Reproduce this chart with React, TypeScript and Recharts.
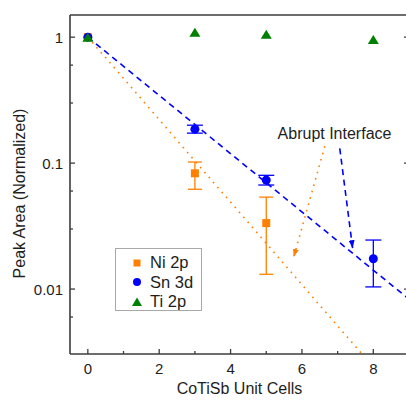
import { ComposedChart, ErrorBar, Line, Scatter, XAxis, YAxis } from 'recharts'

// unit cells of CoTiSb overlayer
const cells = [0, 3, 5, 8]
const niCells = [0, 3, 5]

// normalized peak areas
const niArea = [1, 0.083, 0.0334]
const niLow = [null, 0.062, 0.0131]
const niHigh = [null, 0.102, 0.0537]

const snArea = [1, 0.186, 0.0733, 0.0174]
const snLow = [null, 0.173, 0.067, 0.0104]
const snHigh = [null, 0.2, 0.08, 0.0245]

const tiArea = [1, 1.096, 1.056, 0.959]

// exponential decay guides
const niFitX = [0, 8]
const niFitY = [1, 0.0024]
const snFitX = [0, 9]
const snFitY = [1, 0.0083]

// "Abrupt Interface" arrows
const orangeArrowX = [6.64, 5.77]
const orangeArrowY = [0.136, 0.018]
const blueArrowX = [7.06, 7.42]
const blueArrowY = [0.131, 0.0211]

const xTicks = [0, 1, 2, 3, 4, 5, 6, 7, 8]
const xLabels = [0, 2, 4, 6, 8]
const yTicks = [
  0.004, 0.005, 0.006, 0.007, 0.008, 0.009,
  0.01, 0.02, 0.03, 0.04, 0.05, 0.06, 0.07, 0.08, 0.09,
  0.1, 0.2, 0.3, 0.4, 0.5, 0.6, 0.7, 0.8, 0.9, 1,
]
const yLabels = [0.01, 0.1, 1]

const ORANGE = '#ff8000'
const BLUE = '#0000ff'
const GREEN = '#008000'
const AXIS = '#3c3c3c'
const TEXT = '#1e1e1e'
const FONT = '"Liberation Sans", Arial, sans-serif'

const X_DOMAIN = [-0.5, 9]
const Y_DOMAIN = [0.00305, 1.5]

function points(xs: number[], ys: number[]) {
  return xs.map((x, i) => ({ x, y: ys[i] }))
}

function withErr(xs: number[], ys: number[], lo: (number | null)[], hi: (number | null)[]) {
  return xs.map((x, i) => ({
    x,
    y: ys[i],
    err: lo[i] == null || hi[i] == null ? null : [ys[i] - (lo[i] as number), (hi[i] as number) - ys[i]],
  }))
}

const niData = withErr(niCells, niArea, niLow, niHigh)
const snData = withErr(cells, snArea, snLow, snHigh)
const tiData = points(cells, tiArea)

function BottomTick({ x, y, payload }: any) {
  const major = xLabels.includes(payload.value)
  return (
    <g>
      <line x1={x} x2={x} y1={y} y2={y - (major ? 5 : 3)} stroke={AXIS} strokeWidth={1.3} />
      {major ? (
        <text x={x} y={y + 19.5} textAnchor="middle" fontSize={15} fill={TEXT} fontFamily={FONT}>
          {payload.value}
        </text>
      ) : null}
    </g>
  )
}

function TopTick({ x, y, payload }: any) {
  const major = xLabels.includes(payload.value)
  return <line x1={x} x2={x} y1={y} y2={y + (major ? 5 : 3)} stroke={AXIS} strokeWidth={1.3} />
}

function LeftTick({ x, y, payload }: any) {
  const major = yLabels.includes(payload.value)
  return (
    <g>
      <line x1={x} x2={x + (major ? 5 : 3)} y1={y} y2={y} stroke={AXIS} strokeWidth={1.3} />
      {major ? (
        <text x={x - 7} y={y + 5.5} textAnchor="end" fontSize={15} fill={TEXT} fontFamily={FONT}>
          {String(payload.value)}
        </text>
      ) : null}
    </g>
  )
}

function RightTick({ x, y, payload }: any) {
  const major = yLabels.includes(payload.value)
  return <line x1={x} x2={x - (major ? 5 : 3)} y1={y} y2={y} stroke={AXIS} strokeWidth={1.3} />
}

const square = ({ cx, cy }: any) => <rect x={cx - 4} y={cy - 4} width={8} height={8} fill={ORANGE} />
const circle = ({ cx, cy }: any) => <circle cx={cx} cy={cy} r={4.5} fill={BLUE} />
const triangle = ({ cx, cy }: any) => (
  <path d={`M${cx},${cy - 4.5} L${cx + 5.5},${cy + 4.5} L${cx - 5.5},${cy + 4.5} Z`} fill={GREEN} />
)

function LegendBox() {
  const rows = [
    { name: 'Ni 2p', mark: <rect x={2.5} y={2.5} width={7} height={7} fill={ORANGE} /> },
    { name: 'Sn 3d', mark: <circle cx={6} cy={6} r={4} fill={BLUE} /> },
    { name: 'Ti 2p', mark: <path d="M6,1.5 L11,10 L1,10 Z" fill={GREEN} /> },
  ]
  return (
    <div
      style={{
        position: 'absolute',
        left: 115,
        top: 248,
        width: 87,
        height: 63,
        border: '1px solid #a8a8a8',
        background: '#fff',
        fontFamily: FONT,
        fontSize: 16.5,
        color: TEXT,
        boxSizing: 'border-box',
      }}
    >
      {rows.map((r, i) => (
        <div
          key={r.name}
          style={{ position: 'absolute', left: 15, top: 4 + i * 19.5, height: 19, display: 'flex', alignItems: 'center' }}
        >
          <svg width={12} height={12} style={{ marginRight: 7 }}>
            {r.mark}
          </svg>
          <span style={{ lineHeight: '19px' }}>{r.name}</span>
        </div>
      ))}
    </div>
  )
}

export default function App() {
  return (
    <div style={{ position: 'absolute', left: 0, top: 0, width: 406, height: 401, overflow: 'hidden', background: '#fff' }}>
      <ComposedChart width={416} height={401} margin={{ top: 5, right: 1, bottom: 7, left: 0 }}>
        <defs>
          <marker id="headOrange" viewBox="0 0 8 6" refX={8} refY={3} markerWidth={8} markerHeight={6} orient="auto" markerUnits="userSpaceOnUse">
            <path d="M0,0 L8,3 L0,6 Z" fill={ORANGE} />
          </marker>
          <marker id="headBlue" viewBox="0 0 8 6" refX={8} refY={3} markerWidth={8} markerHeight={6} orient="auto" markerUnits="userSpaceOnUse">
            <path d="M0,0 L8,3 L0,6 Z" fill={BLUE} />
          </marker>
        </defs>

        <XAxis
          dataKey="x"
          type="number"
          domain={X_DOMAIN}
          ticks={xTicks}
          allowDataOverflow
          height={40}
          tickLine={false}
          tickSize={0}
          tickMargin={0}
          tick={<BottomTick />}
          axisLine={{ stroke: AXIS, strokeWidth: 1.6 }}
          label={({ viewBox }: any) => (
            <text x={viewBox.x + viewBox.width / 2} y={viewBox.y + 39.5} textAnchor="middle" fontSize={16} fill={TEXT} fontFamily={FONT}>
              CoTiSb Unit Cells
            </text>
          )}
        />
        <XAxis
          xAxisId="top"
          orientation="top"
          type="number"
          domain={X_DOMAIN}
          ticks={xTicks}
          allowDataOverflow
          height={10}
          tickLine={false}
          tickSize={0}
          tickMargin={0}
          tick={<TopTick />}
          axisLine={{ stroke: AXIS, strokeWidth: 1.6 }}
        />
        <YAxis
          dataKey="y"
          type="number"
          scale="log"
          domain={Y_DOMAIN}
          ticks={yTicks}
          allowDataOverflow
          width={70}
          tickLine={false}
          tickSize={0}
          tickMargin={0}
          tick={<LeftTick />}
          axisLine={{ stroke: AXIS, strokeWidth: 1.6 }}
          label={() => (
            <text
              x={24.5}
              y={193.5}
              transform="rotate(-90, 24.5, 193.5)"
              textAnchor="middle"
              fontSize={16}
              fill={TEXT}
              fontFamily={FONT}
            >
              Peak Area (Normalized)
            </text>
          )}
        />
        <YAxis
          yAxisId="right"
          orientation="right"
          type="number"
          scale="log"
          domain={Y_DOMAIN}
          ticks={yTicks}
          allowDataOverflow
          width={6}
          tickLine={false}
          tickSize={0}
          tickMargin={0}
          tick={<RightTick />}
          axisLine={{ stroke: AXIS, strokeWidth: 1.6 }}
        />

        <Line
          data={points(niFitX, niFitY)}
          dataKey="y"
          stroke={ORANGE}
          strokeWidth={1.6}
          strokeDasharray="1.6 5"
          dot={false}
          activeDot={false}
          isAnimationActive={false}
        />
        <Line
          data={points(snFitX, snFitY)}
          dataKey="y"
          stroke={BLUE}
          strokeWidth={1.6}
          strokeDasharray="6 4.5"
          dot={false}
          activeDot={false}
          isAnimationActive={false}
        />
        <Line
          data={points(orangeArrowX, orangeArrowY)}
          dataKey="y"
          stroke={ORANGE}
          strokeWidth={1.6}
          strokeDasharray="1.6 5"
          dot={false}
          activeDot={false}
          markerEnd="url(#headOrange)"
          isAnimationActive={false}
        />
        <Line
          data={points(blueArrowX, blueArrowY)}
          dataKey="y"
          stroke={BLUE}
          strokeWidth={1.6}
          strokeDasharray="6 4.5"
          dot={false}
          activeDot={false}
          markerEnd="url(#headBlue)"
          isAnimationActive={false}
        />

        <Scatter data={niData} shape={square} isAnimationActive={false}>
          <ErrorBar dataKey="err" direction="y" width={7} stroke={ORANGE} strokeWidth={1.3} />
        </Scatter>
        <Scatter data={snData} shape={circle} isAnimationActive={false}>
          <ErrorBar dataKey="err" direction="y" width={8} stroke={BLUE} strokeWidth={1.3} />
        </Scatter>
        <Scatter data={tiData} shape={triangle} isAnimationActive={false} />

        <text x={334.5} y={138.5} textAnchor="middle" fontSize={16} fill={TEXT} fontFamily={FONT}>
          Abrupt Interface
        </text>
      </ComposedChart>
      <LegendBox />
    </div>
  )
}
